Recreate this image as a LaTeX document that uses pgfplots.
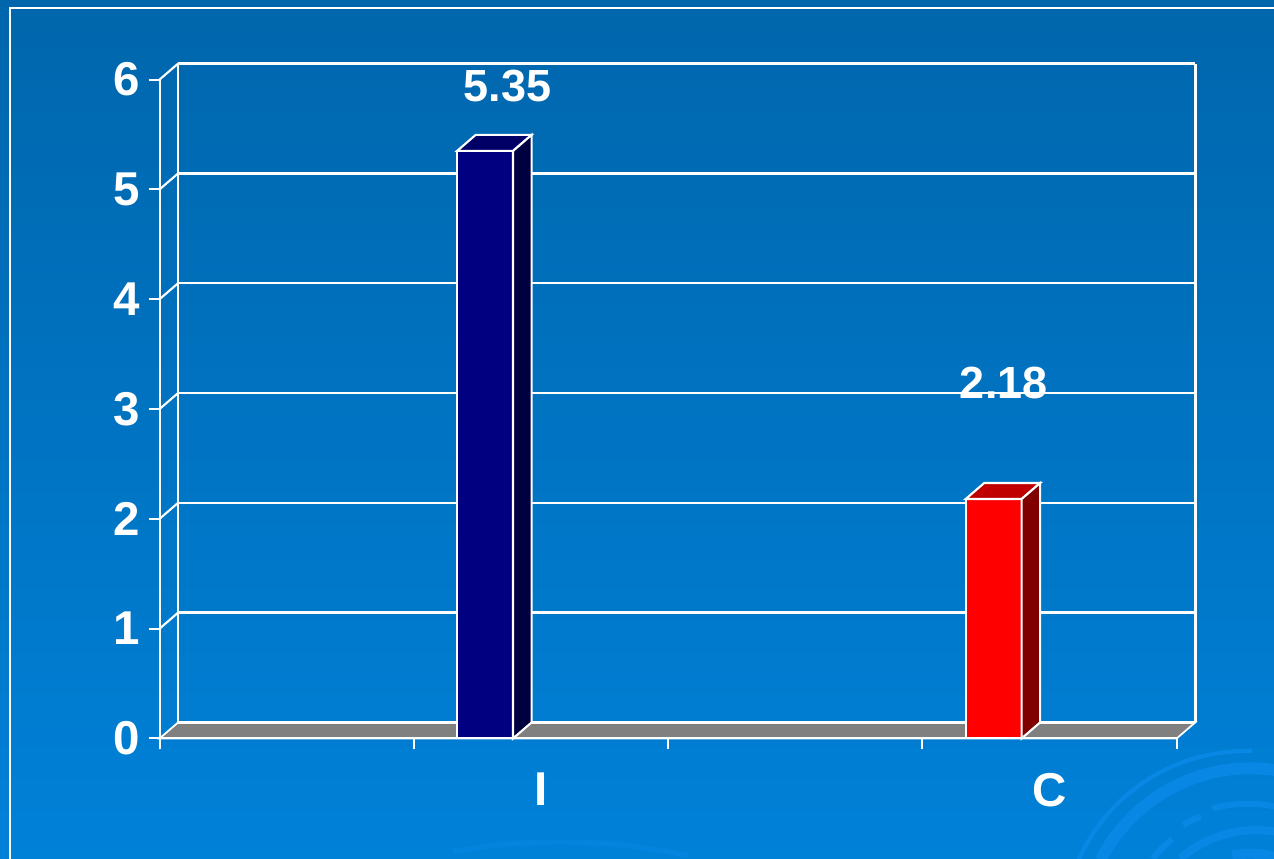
\documentclass[border=0pt]{standalone}
\usepackage{fontspec}
\setmainfont{Liberation Sans}
\usepackage{pgfplots}
\pgfplotsset{compat=1.18}
\definecolor{bgtop}{HTML}{0066AC}
\definecolor{bgbot}{HTML}{0081D8}
\definecolor{swirl}{HTML}{0888E4}
\definecolor{floorgray}{HTML}{808080}
\definecolor{navyfront}{HTML}{000080}
\definecolor{navytop}{HTML}{000066}
\definecolor{navyside}{HTML}{000040}
\definecolor{redfront}{HTML}{FF0000}
\definecolor{redtop}{HTML}{C00000}
\definecolor{redside}{HTML}{800000}
\begin{document}
\begin{tikzpicture}[x=0.01cm,y=0.01cm]
\path[use as bounding box] (0,0) rectangle (1274,858);
\begin{scope}
\clip (0,0) rectangle (1274,858);
\shade[top color=bgtop, bottom color=bgbot] (0,0) rectangle (1274,858);
% decorative swirls (centre near bottom right)
\draw[swirl, line width=1.2pt] (1246,-76) ++(156:183) arc[start angle=156, end angle=88, radius=183];
\draw[swirl, line width=3.4pt] (1246,-76) ++(153:163) arc[start angle=153, end angle=78, radius=168];
\draw[swirl, line width=1.7pt] (1246,-76) ++(105:130) arc[start angle=105, end angle=76, radius=136];
\draw[swirl, line width=1.8pt] (1246,-76) ++(120:126) arc[start angle=120, end angle=111, radius=126];
\draw[swirl, line width=1.8pt] (1246,-76) ++(141:120) arc[start angle=141, end angle=128, radius=122];
\draw[swirl, line width=2.3pt] (1246,-76) ++(131:100) arc[start angle=131, end angle=76, radius=116];
\draw[swirl, line width=2.8pt] (1246,-76) ++(100:80) arc[start angle=100, end angle=70, radius=100];
\draw[swirl, line width=1.5pt, opacity=0.5] (560,-600) ++(100:616) arc[start angle=100, end angle=78, radius=616];
\draw[white, line width=0.8pt] (10,-20) -- (10,850) -- (1300,850);
\end{scope}
\begin{axis}[
  at={(1.595cm,1.195cm)}, anchor=south west,
  scale only axis, width=10.165cm, height=6.585cm,
  xmin=0, xmax=4, ymin=0, ymax=6,
  clip=false, axis on top,
  axis lines=left,
  axis line style={-, white, line width=0.6pt},
  tick align=outside,
  major tick length=0.11cm,
  tick style={white, line width=0.6pt},
  xtick={0,1,2,3,4}, xticklabels={},
  extra x ticks={1.5,3.5}, extra x tick labels={I,C},
  extra x tick style={major tick length=0pt},
  ytick={0,1,2,3,4,5,6},
  /pgf/number format/assume math mode=true,
  ticklabel style={font=\bfseries\fontsize{13.5}{14}\selectfont, text=white},
  yticklabel style={inner sep=0pt, xshift=-0.08cm},
  xticklabel style={inner sep=0pt, anchor=north, yshift=-0.34cm},
]
% floor
\addplot[fill=floorgray, draw=white, line width=0.5pt, forget plot] coordinates {(0,0) (4,0) (4.073,0.146) (0.073,0.146)} -- cycle;
% back wall grid lines
\addplot[white, line width=0.9pt, forget plot] coordinates {(0.073,0.146) (4.073,0.146)};
\addplot[white, line width=0.7pt, forget plot] coordinates {(0.073,1.146) (4.073,1.146)};
\addplot[white, line width=0.7pt, forget plot] coordinates {(0.073,2.146) (4.073,2.146)};
\addplot[white, line width=0.7pt, forget plot] coordinates {(0.073,3.146) (4.073,3.146)};
\addplot[white, line width=0.7pt, forget plot] coordinates {(0.073,4.146) (4.073,4.146)};
\addplot[white, line width=0.7pt, forget plot] coordinates {(0.073,5.146) (4.073,5.146)};
\addplot[white, line width=0.7pt, forget plot] coordinates {(0.073,6.146) (4.073,6.146)};
\addplot[white, line width=0.7pt, forget plot] coordinates {(0.073,0.146) (0.073,6.146)};
\addplot[white, line width=0.7pt, forget plot] coordinates {(4.073,0.146) (4.073,6.146)};
% side diagonals of the wall
\addplot[white, line width=0.6pt, forget plot] coordinates {(0,1) (0.073,1.146)};
\addplot[white, line width=0.6pt, forget plot] coordinates {(0,2) (0.073,2.146)};
\addplot[white, line width=0.6pt, forget plot] coordinates {(0,3) (0.073,3.146)};
\addplot[white, line width=0.6pt, forget plot] coordinates {(0,4) (0.073,4.146)};
\addplot[white, line width=0.6pt, forget plot] coordinates {(0,5) (0.073,5.146)};
\addplot[white, line width=0.6pt, forget plot] coordinates {(0,6) (0.073,6.146)};
% bar I
\addplot[ybar, bar width=0.22, bar shift=-0.22, fill=navyfront, draw=white, line width=0.6pt] coordinates {(1.5,5.35)};
\addplot[fill=navytop, draw=white, line width=0.6pt, forget plot] coordinates {(1.17,5.35) (1.39,5.35) (1.463,5.496) (1.243,5.496)} -- cycle;
\addplot[fill=navyside, draw=white, line width=0.6pt, forget plot] coordinates {(1.39,0) (1.39,5.35) (1.463,5.496) (1.463,0.146)} -- cycle;
% bar C
\addplot[ybar, bar width=0.22, bar shift=-0.22, fill=redfront, draw=white, line width=0.6pt] coordinates {(3.5,2.18)};
\addplot[fill=redtop, draw=white, line width=0.6pt, forget plot] coordinates {(3.17,2.18) (3.39,2.18) (3.463,2.326) (3.243,2.326)} -- cycle;
\addplot[fill=redside, draw=white, line width=0.6pt, forget plot] coordinates {(3.39,0) (3.39,2.18) (3.463,2.326) (3.463,0.146)} -- cycle;
% value labels
\node[text=white, font=\bfseries\fontsize{12.8}{13}\selectfont, inner sep=0pt] at (axis cs:1.368,5.94) {5.35};
\node[text=white, font=\bfseries\fontsize{12.8}{13}\selectfont, inner sep=0pt] at (axis cs:3.32,3.24) {2.18};
\end{axis}
\end{tikzpicture}
\end{document}
